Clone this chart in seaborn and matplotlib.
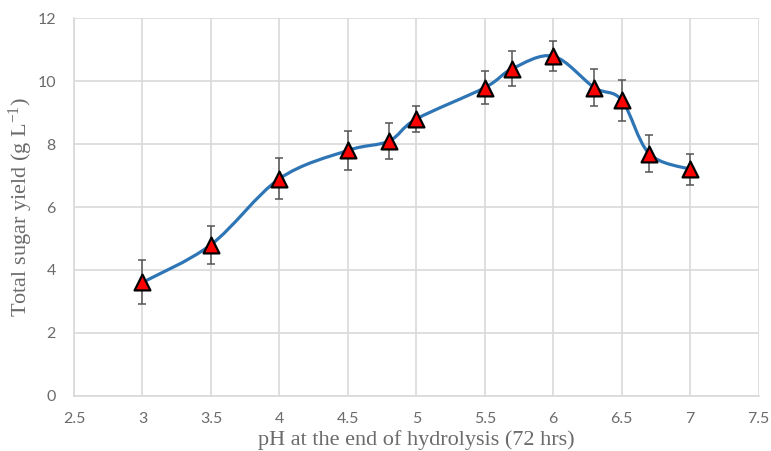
import numpy as np
import pandas as pd
import matplotlib
matplotlib.use("Agg")
import matplotlib.pyplot as plt
from matplotlib.path import Path
from matplotlib.patches import PathPatch
import seaborn as sns

# ============================
# DATA
# ============================

ph_values = [3.0, 3.5, 4.0, 4.5, 4.8, 5.0, 5.5, 5.7, 6.0, 6.3, 6.5, 6.7, 7.0]
sugar_yield = [3.6, 4.8, 6.9, 7.8, 8.1, 8.8, 9.8, 10.4, 10.8, 9.8, 9.4, 7.7, 7.2]
yield_err = [0.7, 0.6, 0.65, 0.62, 0.57, 0.4, 0.53, 0.55, 0.48, 0.6, 0.65, 0.6, 0.5]

x_ticks = [2.5, 3, 3.5, 4, 4.5, 5, 5.5, 6, 6.5, 7, 7.5]
x_tick_labels = ["2.5", "3", "3.5", "4", "4.5", "5", "5.5", "6", "6.5", "7", "7.5"]
y_ticks = [0, 2, 4, 6, 8, 10, 12]

df = pd.DataFrame({"ph": ph_values, "yield": sugar_yield, "err": yield_err})

# ============================
# STYLE
# ============================

sns.set_style("white")
plt.rcParams["font.family"] = ["Lato", "DejaVu Sans"]
plt.rcParams["mathtext.fontset"] = "custom"
plt.rcParams["mathtext.rm"] = "Liberation Serif"
plt.rcParams["mathtext.it"] = "Liberation Serif:italic"

GRID = "#d9d9d9"
TEXT = "#6b6b6b"
LINE = "#2e75b6"


def smooth_path(xs, ys, k=6.0):
    # excel style smoothed line: cubic bezier segments through each point
    pts = np.column_stack([xs, ys])
    n = len(pts)
    verts = [pts[0]]
    codes = [Path.MOVETO]
    for i in range(n - 1):
        p0 = pts[i - 1] if i > 0 else pts[i]
        p1 = pts[i]
        p2 = pts[i + 1]
        p3 = pts[i + 2] if i + 2 < n else pts[i + 1]
        c1 = p1 + (p2 - p0) / k
        c2 = p2 - (p3 - p1) / k
        verts += [c1, c2, p2]
        codes += [Path.CURVE4] * 3
    return Path(verts, codes)


fig, ax = plt.subplots(figsize=(7.71, 4.51), dpi=100)
fig.subplots_adjust(left=0.096, right=0.984, bottom=0.123, top=0.959)

# smoothed line
curve = PathPatch(smooth_path(df["ph"].values, df["yield"].values),
                  facecolor="none", edgecolor=LINE, lw=2.3, zorder=2,
                  capstyle="round", joinstyle="round")
ax.add_patch(curve)

# error bars
ax.errorbar(df["ph"], df["yield"], yerr=df["err"], fmt="none",
            ecolor="#555555", elinewidth=1.1, capsize=3.2, capthick=1.1, zorder=3)

# markers
sns.scatterplot(data=df, x="ph", y="yield", marker="^", s=130, color="red",
                edgecolor="black", linewidth=1.6, zorder=4, ax=ax, legend=False)

ax.set_xlim(2.5, 7.5)
ax.set_ylim(0, 12)
ax.set_xticks(x_ticks)
ax.set_xticklabels(x_tick_labels)
ax.set_yticks(y_ticks)

ax.grid(True, color=GRID, lw=1.2)
ax.set_axisbelow(True)
for side in ["top", "right"]:
    ax.spines[side].set_visible(False)
for side in ["left", "bottom"]:
    ax.spines[side].set_color(GRID)
    ax.spines[side].set_linewidth(1.2)

ax.tick_params(axis="both", length=0, labelsize=11.5, labelcolor=TEXT)
ax.tick_params(axis="x", pad=12)
ax.tick_params(axis="y", pad=13)

ax.set_xlabel("pH at the end of hydrolysis (72 hrs)", family="Liberation Serif",
              fontsize=16, color=TEXT, labelpad=3)
ax.set_ylabel("Total sugar yield (g L$^{-1}$)", family="Liberation Serif",
              fontsize=16, color=TEXT)
ax.yaxis.set_label_coords(-0.057, 0.5)

plt.savefig("out.png", dpi=100)
